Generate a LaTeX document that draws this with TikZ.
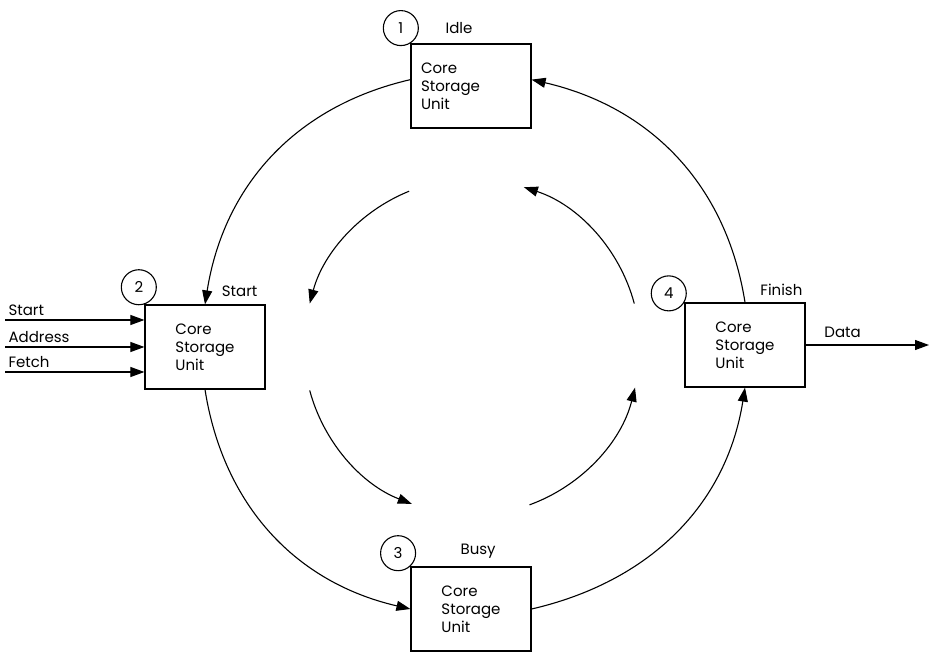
\documentclass[tikz,border=0pt]{standalone}
\usepackage{fontspec}
\setmainfont{Poppins}
\usepackage{tikz}
\usetikzlibrary{arrows.meta}
\tikzstyle{unitbox} = [draw=black, line width=1.2pt, minimum width=120pt, minimum height=84pt, align=left, inner sep=0pt]
\tikzstyle{numcirc} = [draw=black, circle, line width=1.1pt, minimum size=35pt, inner sep=0pt]
\tikzstyle{flow} = [line width=1.1pt, -{Triangle[length=14pt,width=10pt]}]
\tikzstyle{lbl} = [inner sep=0pt]

\begin{document}
\begin{tikzpicture}[x=1pt, y=1pt, font=\fontsize{15}{18}\selectfont]
    \useasboundingbox (0,0) rectangle (931,651);

    \node[unitbox, text width=100pt] (idle) at (471,565) {Core\\Storage\\Unit};
    \node[unitbox] (start) at (205,304) {Core\\Storage\\Unit};
    \node[unitbox] (busy) at (471,42) {Core\\Storage\\Unit};
    \node[unitbox] (finish) at (745,306) {Core\\Storage\\Unit};

    \node[numcirc, anchor=-58] (c1) at (idle.north west) {1};
    \node[numcirc, anchor=-72] (c2) at (start.north west) {2};
    \node[numcirc, anchor=-47] (c3) at (busy.north west) {3};
    \node[numcirc, anchor=-30] (c4) at (finish.north west) {4};

    \node[lbl, anchor=base west] (idlelbl) at ([shift={(35,10)}]idle.north west) {Idle};
    \node[lbl, anchor=base east] (startlbl) at ([shift={(-8,8)}]start.north east) {Start};
    \node[lbl, anchor=base west] (busylbl) at ([shift={(50,12)}]busy.north west) {Busy};
    \node[lbl, anchor=base east] (finishlbl) at ([shift={(-3,7)}]finish.north east) {Finish};

    \draw[flow] (idle.174) to[out=193, in=81] (start.north);
    \draw[flow] (start.south) to[out=-81, in=167] (busy.west);
    \draw[flow] (busy.east) to[out=13, in=-99] (finish.south);
    \draw[flow] (finish.north) to[out=99, in=-13] (idle.6);

    \coordinate (hub) at (472,304);
    \foreach \a/\b in {112/165,195/249,290/346,15/72}
      \draw[flow] (hub) ++(\a:168) arc[start angle=\a, end angle=\b, radius=168];

    \coordinate (inA) at (5,331);
    \coordinate (inB) at (5,304);
    \coordinate (inC) at (5,279);
    \draw[flow] (inA) node[lbl, anchor=base west, shift={(3,4)}] (inAlbl) {Start} -- (inA -| start.west);
    \draw[flow] (inB) node[lbl, anchor=base west, shift={(3,4)}] (inBlbl) {Address} -- (inB -| start.west);
    \draw[flow] (inC) node[lbl, anchor=base west, shift={(3,4)}] (inClbl) {Fetch} -- (inC -| start.west);

    \coordinate (dataout) at (929,306);
    \draw[flow] (finish.east) -- node[lbl, pos=0.3, anchor=base, yshift=7pt] (datalbl) {Data} (dataout);
\end{tikzpicture}
\end{document}
